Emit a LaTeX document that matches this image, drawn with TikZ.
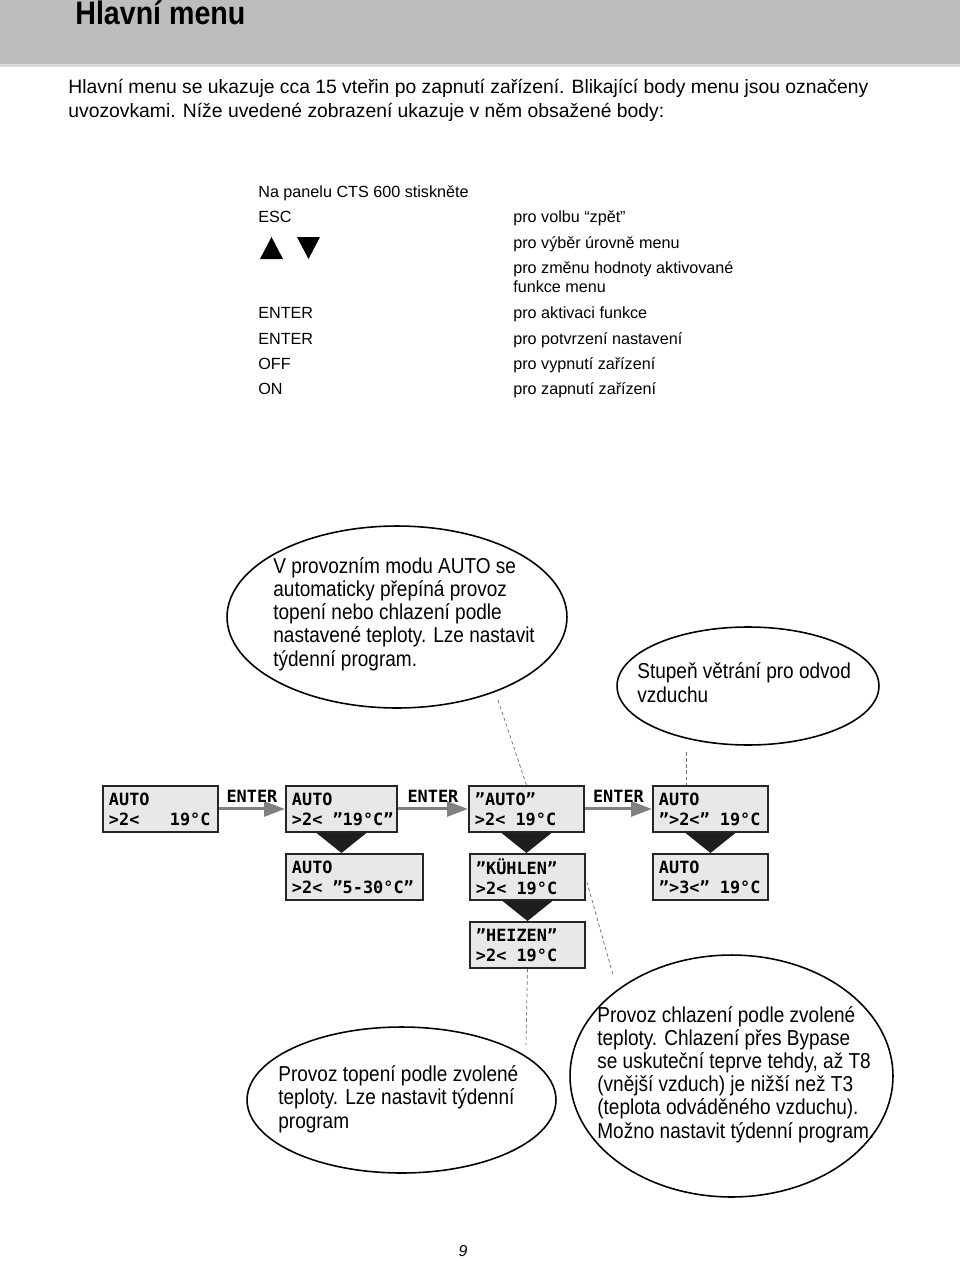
\documentclass[tikz,border=0pt]{standalone}
\usepackage{fontspec}
\setmainfont{Liberation Sans}
\newfontfamily\condfont{Liberation Sans}[FakeStretch=0.88]
\newfontfamily\lcdfont{DejaVu Sans Mono}
\usetikzlibrary{arrows.meta,shapes.geometric,calc}
\definecolor{band}{RGB}{188,189,191}
\definecolor{bandline}{RGB}{218,218,220}
\definecolor{lcdfill}{RGB}{232,232,232}
\definecolor{arrowgray}{RGB}{128,128,128}
\definecolor{tricol}{RGB}{30,30,30}
\definecolor{dashcol}{RGB}{110,110,110}
\begin{document}
\begin{tikzpicture}[x=0.02cm,y=-0.02cm,
  lcd/.style={draw=black!85, line width=1.1pt, fill=lcdfill,
    font={\lcdfont\bfseries\fontsize{9.6}{11.4}\selectfont}, align=left,
    text width=#1, inner xsep=0.12cm, inner ysep=0pt, minimum height=0.92cm,
    anchor=north west},
  garrow/.style={draw=arrowgray, line width=1.7pt,
    -{Triangle[length=0.42cm,width=0.3cm]}},
  enterlbl/.style={anchor=base, yshift=0.12cm, inner sep=0pt,
    font={\lcdfont\bfseries\fontsize{9.6}{11.4}\selectfont}},
  tri/.style={fill=tricol},
  dline/.style={draw=dashcol, line width=0.4pt, dash pattern=on 2pt off 1.5pt},
  bubble/.style={draw=black, line width=0.9pt, ellipse, inner sep=0pt},
  etext/.style={font={\condfont\fontsize{12.3}{13.1}\selectfont}, align=left,
    inner sep=0pt, anchor=base west},
  keytext/.style={font={\fontsize{9.2}{10.8}\selectfont}, align=left,
    inner sep=0pt, anchor=base west},
  paratext/.style={font={\fontsize{11}{13.1}\selectfont}, align=left,
    inner sep=0pt, anchor=base west}
]
\useasboundingbox (0,0) rectangle (960,1261);

% header band
\fill[band] (0,0) rectangle (960,64);
\fill[bandline] (0,64) rectangle (960,67);
\node[inner sep=0pt, anchor=base west,
  font={\condfont\bfseries\fontsize{18.5}{20}\selectfont}] (title) at (75,25) {Hlavní menu};

% intro paragraph (anchor = baseline of last line)
\node[paratext] (intro) at (68,117) {Hlavní menu se ukazuje cca 15 vteřin po zapnutí zařízení. Blikající body menu jsou označeny\\uvozovkami. Níže uvedené zobrazení ukazuje v něm obsažené body:};

% key table
\node[keytext] (k0) at (258,197) {Na panelu CTS 600 stiskněte};
\node[keytext] (k1) at (258,222) {ESC};
\node[keytext] (k3) at (258,318) {ENTER};
\node[keytext] (k4) at (258,344) {ENTER};
\node[keytext] (k5) at (258,369) {OFF};
\node[keytext] (k6) at (258,394) {ON};
\fill (260,259) -- (283,259) -- (271.5,237) -- cycle;
\fill (297,237) -- (320,237) -- (308.5,259) -- cycle;
\node[keytext] (r1) at (513,222) {pro volbu “zpět”};
\node[keytext] (r2) at (513,248) {pro výběr úrovně menu};
\node[keytext] (r3) at (513,292) {pro změnu hodnoty aktivované\\funkce menu};
\node[keytext] (r4) at (513,318) {pro aktivaci funkce};
\node[keytext] (r5) at (513,344) {pro potvrzení nastavení};
\node[keytext] (r6) at (513,369) {pro vypnutí zařízení};
\node[keytext] (r7) at (513,394) {pro zapnutí zařízení};

% bubbles (text anchors = baseline of last line)
\node[bubble, minimum width=6.8cm, minimum height=3.64cm] (E1) at (397,617) {};
\node[etext] (t1) at (273,666) {V provozním modu AUTO se\\automaticky přepíná provoz\\topení nebo chlazení podle\\nastavené teploty. Lze nastavit\\týdenní program.};
\node[bubble, minimum width=5.24cm, minimum height=2.36cm] (E2) at (748,686) {};
\node[etext] (t2) at (637,702) {Stupeň větrání pro odvod\\vzduchu};
\node[bubble, minimum width=6.18cm, minimum height=2.92cm] (E3) at (401.5,1100) {};
\node[etext] (t3) at (278,1128) {Provoz topení podle zvolené\\teploty. Lze nastavit týdenní\\program};
\node[bubble, minimum width=6.46cm, minimum height=4.84cm] (E4) at (731.5,1076) {};
\node[etext] (t4) at (597,1138) {Provoz chlazení podle zvolené\\teploty. Chlazení přes Bypase\\se uskuteční teprve tehdy, až T8\\(vnější vzduch) je nižší než T3\\(teplota odváděného vzduchu).\\Možno nastavit týdenní program.};

% LCD boxes
\node[lcd=2.06cm] (A) at (102,785) {AUTO\\>2<\hphantom{000}19°C};
\node[lcd=1.98cm] (B) at (285,785) {AUTO\\>2<\hphantom{0}”19°C”};
\node[lcd=2.5cm] (B2) at (285,853) {AUTO\\>2<\hphantom{0}”5-30°C”};
\node[lcd=2.06cm] (C) at (468,785) {”AUTO”\\>2<\hphantom{0}19°C};
\node[lcd=2.06cm] (C2) at (469,853) {”KÜHLEN”\\>2<\hphantom{0}19°C};
\node[lcd=2.06cm] (C3) at (469,921) {”HEIZEN”\\>2<\hphantom{0}19°C};
\node[lcd=2.06cm] (D) at (652,785) {AUTO\\”>2<”\hphantom{0}19°C};
\node[lcd=2.06cm] (D2) at (652,853) {AUTO\\”>3<”\hphantom{0}19°C};

% ENTER arrows
\draw[garrow] (A.east) -- node (e1) [enterlbl] {ENTER} (B.west);
\draw[garrow] (B.east) -- node (e2) [enterlbl] {ENTER} (C.west);
\draw[garrow] (C.east) -- node (e3) [enterlbl] {ENTER} (D.west);

% black down triangles
\fill[tri] ($(B.south)+(-25,0)$) -- ($(B.south)+(25,0)$) -- (B.south |- B2.north) -- cycle;
\fill[tri] ($(C.south)+(-25,0)$) -- ($(C.south)+(25,0)$) -- (C.south |- C2.north) -- cycle;
\fill[tri] ($(C2.south)+(-25,0)$) -- ($(C2.south)+(25,0)$) -- (C2.south |- C3.north) -- cycle;
\fill[tri] ($(D.south)+(-25,0)$) -- ($(D.south)+(25,0)$) -- (D.south |- D2.north) -- cycle;

% dashed leader lines
\coordinate (d1) at (498,700);
\draw[dline] (d1) -- (C.north);
\coordinate (d2) at (686,752);
\draw[dline] (d2) -- (d2 |- D.north);
\coordinate (d3) at (613,975);
\draw[dline] ($(C2.east)+(1,5)$) -- (d3);
\coordinate (d4) at (526,1045);
\draw[dline] (C3.south) -- (d4);

% page number
\node[inner sep=0pt, anchor=base, font={\itshape\fontsize{9}{10}\selectfont}] (pg) at (463,1256) {9};
\end{tikzpicture}
\end{document}
